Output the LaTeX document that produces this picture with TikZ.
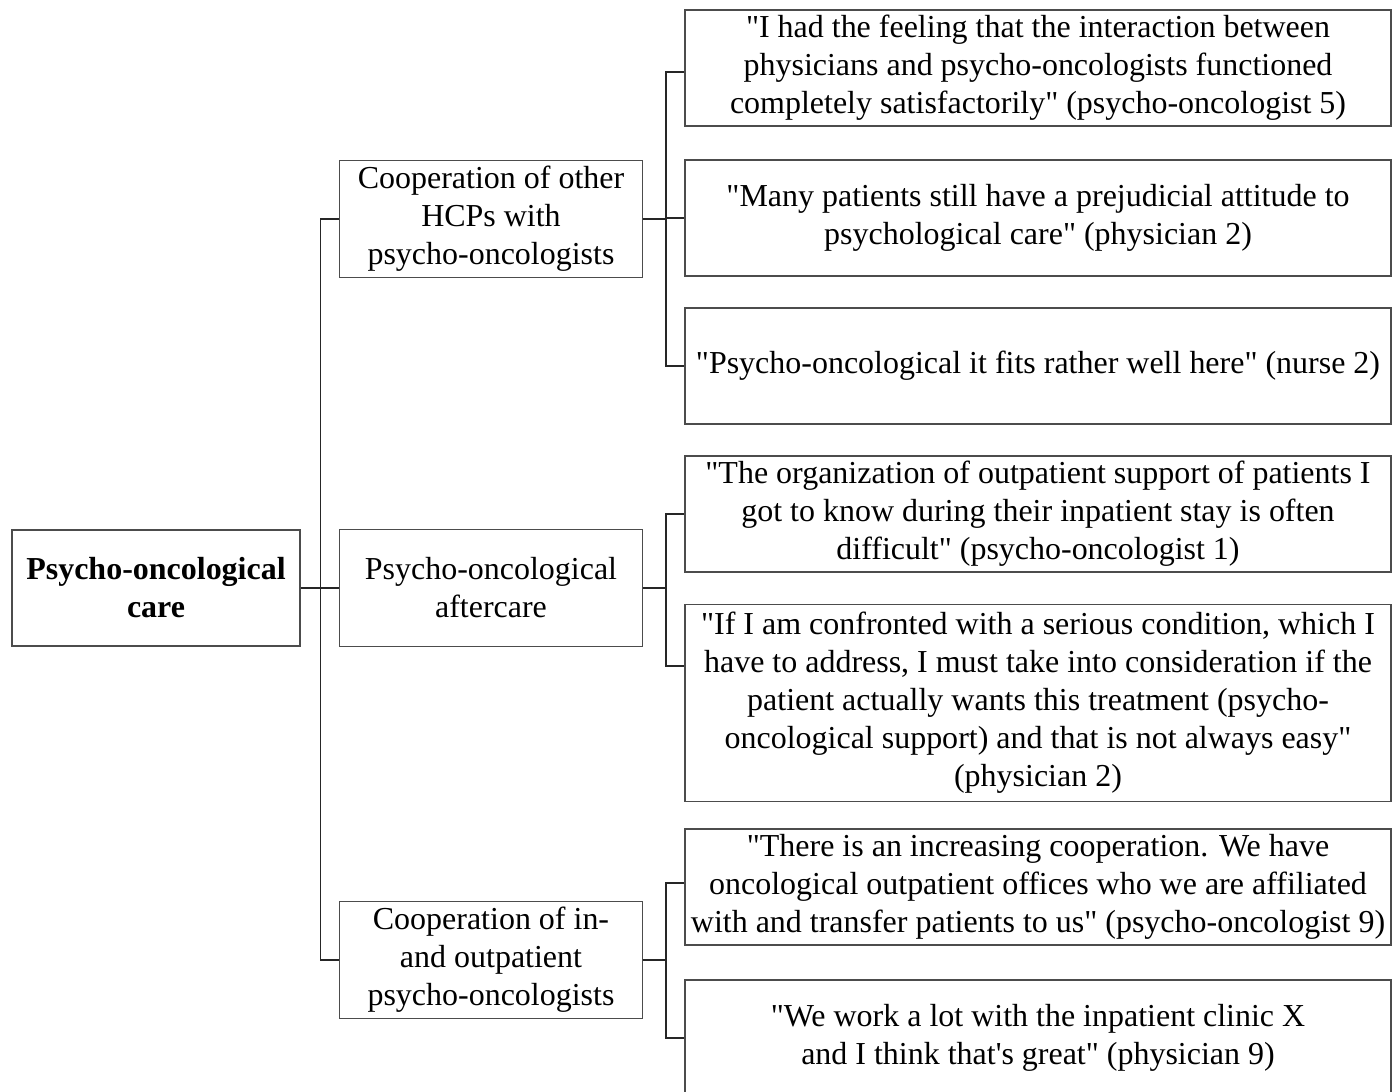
\documentclass[tikz,border=0pt]{standalone}
\usepackage{fontspec}
\setmainfont{Liberation Serif}[Ligatures=TeXOff]
\usetikzlibrary{
  positioning,
  calc
}

\begin{document}
\begin{tikzpicture}[
  x=0.02cm, y=-0.02cm,
  every node/.style={font=\fontsize{18.2pt}{21.6pt}\selectfont},
  box/.style={draw=black!70, line width=0.7pt, align=center, inner sep=2pt},
  topic/.style={box, minimum width=288*0.02cm, minimum height=116*0.02cm, font=\fontsize{18.2pt}{21.6pt}\selectfont\bfseries},
  theme/.style={box, minimum width=303*0.02cm, minimum height=117*0.02cm},
  quote/.style={box, minimum width=706*0.02cm, minimum height=116*0.02cm},
  link/.style={line width=0.9pt, black!85}
]

\useasboundingbox (0,0) rectangle (1398,1091);

\node[topic] (root) at (156,588) {Psycho-oncological\\care};

\node[theme] (coop) at (491,219) {Cooperation of other\\HCPs with\\psycho-oncologists};
\node[theme] (after) at (491,588) {Psycho-oncological\\aftercare};
\node[theme] (inout) at (491,960) {Cooperation of in-\\and outpatient\\psycho-oncologists};

\node[quote] (satisfied) at (1038,68) {"I had the feeling that the interaction between\\physicians and psycho-oncologists functioned\\completely satisfactorily" (psycho-oncologist 5)};
\node[quote] (prejudice) at (1038,218) {"Many patients still have a prejudicial attitude to\\psychological care" (physician 2)};
\node[quote] (fits) at (1038,366) {"Psycho-oncological it fits rather well here" (nurse 2)};

\node[quote] (organize) at (1038,514) {"The organization of outpatient support of patients I\\got to know during their inpatient stay is often\\difficult" (psycho-oncologist 1)};
\node[quote, minimum height=197*0.02cm] (confront) at (1038,703) {"If I am confronted with a serious condition, which I\\have to address, I must take into consideration if the\\patient actually wants this treatment (psycho-\\oncological support) and that is not always easy"\\(physician 2)};

\node[quote] (increase) at (1038,887) {"There is an increasing cooperation. We have\\oncological outpatient offices who we are affiliated\\with and transfer patients to us" (psycho-oncologist 9)};
\node[quote] (clinic) at (1038,1038) {"We work a lot with the inpatient clinic X\\and I think that's great" (physician 9)};

% root to themes
\draw[link] (root.east) -- ++(20,0) coordinate (trunk);
\draw[link] (trunk) |- (coop.west);
\draw[link] (trunk) -- (after.west);
\draw[link] (trunk) |- (inout.west);

% themes to quotes
\draw[link] (coop.east) -- ++(23,0) coordinate (coopfork);
\draw[link] (coopfork) |- ([yshift=-0.08cm]satisfied.west);
\draw[link] (coopfork) -- (prejudice.west -| coopfork) -- (prejudice.west);
\draw[link] (coopfork) |- (fits.west);

\draw[link] (after.east) -- ++(23,0) coordinate (afterfork);
\draw[link] (afterfork) |- (organize.west);
\draw[link] (afterfork) |- ([yshift=0.74cm]confront.west);

\draw[link] (inout.east) -- ++(23,0) coordinate (inoutfork);
\draw[link] (inoutfork) |- ([yshift=0.08cm]increase.west);
\draw[link] (inoutfork) |- (clinic.west);

\end{tikzpicture}
\end{document}
